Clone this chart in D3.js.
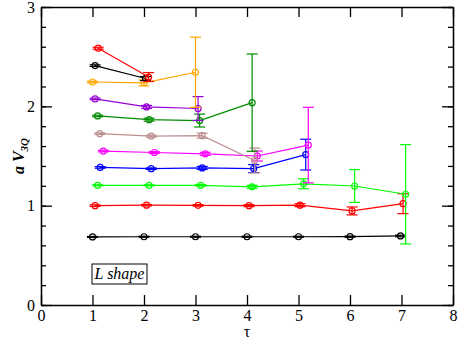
<!DOCTYPE html>
<html>
<head>
<meta charset="utf-8">
<script src="https://cdn.jsdelivr.net/npm/d3@7"></script>
<style>
  body { margin: 0; background: #fff; }
  svg { display: block; }
  .axis path, .axis line { stroke: #000; stroke-width: 1.3; }
</style>
</head>
<body>
<svg width="458" height="340" font-family="Liberation Serif"></svg>
<script>
// [tau, aV, err] for each series, bottom to top
blackLow = [[1.0, 0.685, 0.005], [2.0, 0.687, 0.005], [3.0, 0.687, 0.005], [4.0, 0.687, 0.005], [5.0, 0.687, 0.005], [6.0, 0.688, 0.006], [6.98, 0.695, 0.008]]
redLow = [[1.05, 1.0, 0.008], [2.05, 1.005, 0.008], [3.05, 1.003, 0.008], [4.04, 1.0, 0.01], [5.03, 1.005, 0.015], [6.04, 0.947, 0.04], [7.03, 1.02, 0.1]]
lime = [[1.1, 1.205, 0.005], [2.1, 1.205, 0.005], [3.1, 1.205, 0.008], [4.1, 1.19, 0.015], [5.1, 1.22, 0.05], [6.09, 1.198, 0.165], [7.08, 1.115, 0.5]]
blue = [[1.15, 1.385, 0.008], [2.14, 1.372, 0.008], [3.13, 1.38, 0.015], [4.13, 1.373, 0.04], [5.14, 1.514, 0.155]]
magenta = [[1.21, 1.55, 0.008], [2.2, 1.535, 0.01], [3.19, 1.522, 0.015], [4.2, 1.5, 0.05], [5.19, 1.61, 0.38]]
brown = [[1.14, 1.725, 0.008], [2.14, 1.70, 0.01], [3.13, 1.705, 0.025], [4.15, 1.455, 0.125]]
green4 = [[1.1, 1.903, 0.008], [2.1, 1.866, 0.015], [3.08, 1.857, 0.065], [4.1, 2.037, 0.49]]
violet = [[1.05, 2.075, 0.008], [2.05, 1.994, 0.015], [3.05, 1.978, 0.12]]
orange = [[1.0, 2.245, 0.008], [2.0, 2.236, 0.03], [3.0, 2.343, 0.353]]
blackTop = [[1.05, 2.41, 0.008], [2.03, 2.28, 0.02]]
redTop = [[1.11, 2.585, 0.01], [2.09, 2.295, 0.045]]

series = [blackLow, redLow, lime, blue, magenta, brown, green4, violet, orange, blackTop, redTop]
colors = ['#000000', '#ff0000', '#00ff00', '#0000ff', '#ff00ff', '#bc8f8f', '#008b00', '#9400d3', '#ffa500', '#000000', '#ff0000']

xTicks = [0, 1, 2, 3, 4, 5, 6, 7, 8]
yTicks = [0, 1, 2, 3]
yMinor = d3.range(0, 3.01, 0.2)

LEFT = 41, RIGHT = 453, TOP = 7, BOTTOM = 305
CAP = 5.5
FONT = 'Liberation Serif'

svg = d3.select('svg')
x = d3.scaleLinear().domain([0, 8]).range([LEFT, RIGHT])
y = d3.scaleLinear().domain([0, 3]).range([BOTTOM, TOP])

// series
line = d3.line().x(function (d) { return x(d[0]); }).y(function (d) { return y(d[1]); })

g = svg.selectAll('g.series')
  .data(series)
  .enter()
  .append('g')
  .attr('class', 'series')
  .attr('stroke', function (d, i) { return colors[i]; })
  .attr('fill', 'none')
  .attr('stroke-width', 1.2)

g.append('path').attr('d', line)

pts = g.selectAll('g.pt')
  .data(function (d) { return d; })
  .enter()
  .append('g')
  .attr('class', 'pt')

pts.append('line')
  .attr('x1', function (d) { return x(d[0]); })
  .attr('x2', function (d) { return x(d[0]); })
  .attr('y1', function (d) { return y(d[1] - d[2]); })
  .attr('y2', function (d) { return y(d[1] + d[2]); })
pts.append('line')
  .attr('x1', function (d) { return x(d[0]) - CAP; })
  .attr('x2', function (d) { return x(d[0]) + CAP; })
  .attr('y1', function (d) { return y(d[1] + d[2]); })
  .attr('y2', function (d) { return y(d[1] + d[2]); })
pts.append('line')
  .attr('x1', function (d) { return x(d[0]) - CAP; })
  .attr('x2', function (d) { return x(d[0]) + CAP; })
  .attr('y1', function (d) { return y(d[1] - d[2]); })
  .attr('y2', function (d) { return y(d[1] - d[2]); })
pts.append('circle')
  .attr('cx', function (d) { return x(d[0]); })
  .attr('cy', function (d) { return y(d[1]); })
  .attr('r', 3)

// axes, ticks pointing inward
function axis(gen, tx, ty) {
  return svg.append('g').attr('class', 'axis')
    .attr('transform', 'translate(' + tx + ',' + ty + ')')
    .call(gen)
    .attr('font-family', FONT)
    .attr('font-size', 16)
}
axis(d3.axisBottom(x).tickValues(xTicks).tickSize(-10).tickSizeOuter(0).tickPadding(5).tickFormat(d3.format('d')), 0, BOTTOM)
axis(d3.axisTop(x).tickValues(xTicks).tickSize(-10).tickSizeOuter(0).tickFormat(''), 0, TOP)
axis(d3.axisLeft(y).tickValues(yTicks).tickSize(-11).tickSizeOuter(0).tickPadding(6).tickFormat(d3.format('d')), LEFT, 0)
axis(d3.axisLeft(y).tickValues(yMinor).tickSize(-5).tickSizeOuter(0).tickFormat(''), LEFT, 0)
axis(d3.axisRight(y).tickValues(yTicks).tickSize(-11).tickSizeOuter(0).tickFormat(''), RIGHT, 0)
axis(d3.axisRight(y).tickValues(yMinor).tickSize(-5).tickSizeOuter(0).tickFormat(''), RIGHT, 0)

// axis titles
svg.append('text')
  .attr('x', (LEFT + RIGHT) / 2).attr('y', 337)
  .attr('text-anchor', 'middle')
  .attr('font-family', FONT)
  .attr('font-size', 16)
  .text('τ')

yl = svg.append('text')
  .attr('transform', 'translate(24,' + (TOP + BOTTOM) / 2 + ') rotate(-90)')
  .attr('text-anchor', 'middle')
  .attr('font-family', FONT)
  .attr('font-size', 16)
  .attr('font-style', 'italic')
  .attr('font-weight', 'bold')
yl.append('tspan').text('a V')
yl.append('tspan').attr('dy', 4).attr('font-size', 11).text('3Q')

// label box
svg.append('rect')
  .attr('x', 92).attr('y', 264).attr('width', 55).attr('height', 20)
  .attr('fill', 'none').attr('stroke', '#000').attr('stroke-width', 1)
svg.append('text')
  .attr('x', 119.5).attr('y', 279)
  .attr('text-anchor', 'middle')
  .attr('font-family', FONT)
  .attr('font-size', 16)
  .attr('font-style', 'italic')
  .text('L shape')
</script>
</body>
</html>
